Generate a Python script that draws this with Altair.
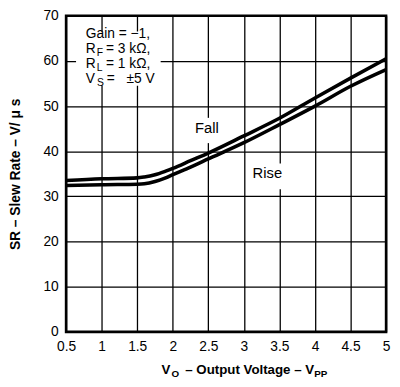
import altair as alt
import pandas as pd

# ---- data ----
vo = [0.5, 1.0, 1.5, 1.6, 1.75, 1.9, 2.0, 2.25, 2.5, 3.0, 3.5, 4.0, 4.5, 5.0]
fall = [33.5, 33.9, 34.1, 34.3, 34.8, 35.6, 36.2, 37.9, 39.6, 43.4, 47.3, 51.8, 56.2, 60.5]
rise = [32.4, 32.6, 32.7, 32.8, 33.3, 34.1, 34.8, 36.5, 38.3, 41.9, 45.9, 50.0, 54.4, 58.1]
x_ticks = [0.5, 1, 1.5, 2, 2.5, 3, 3.5, 4, 4.5, 5]
y_ticks = [0, 10, 20, 30, 40, 50, 60, 70]

# curve labels (data coordinates)
curve_labels = ["Fall", "Rise"]
curve_label_x = [2.48, 3.33]
curve_label_y = [45.2, 35.2]

# white backgrounds behind annotations (data coordinates)
box_x1 = [0.64, 2.30, 3.10]
box_x2 = [1.83, 2.66, 3.56]
box_y1 = [54.5, 41.8, 31.6]
box_y2 = [66.5, 47.4, 37.3]

# conditions box pieces (data coordinates)
cond_main_text = ["Gain = \u22121,", "R", "= 3 k\u03a9,", "R", "= 1 k\u03a9,", "V", "=", "\u00b15 V"]
cond_main_x = [0.777, 0.777, 1.06, 0.777, 1.06, 0.777, 1.07, 1.35]
cond_main_y = [65.1, 61.8, 61.8, 58.4, 58.4, 55.2, 55.2, 55.2]
cond_sub_text = ["F", "L", "S"]
cond_sub_x = [0.93, 0.93, 0.935]
cond_sub_y = [61.8, 58.4, 55.2]

FONT = "Liberation Sans"

lines_df = pd.DataFrame({
    "vo": vo * 2,
    "sr": fall + rise,
    "series": ["Fall"] * len(vo) + ["Rise"] * len(vo),
})
lab_df = pd.DataFrame({"t": curve_labels, "x": curve_label_x, "y": curve_label_y})
box_df = pd.DataFrame({"x": box_x1, "x2": box_x2, "y": box_y1, "y2": box_y2})
main_df = pd.DataFrame({"t": cond_main_text, "x": cond_main_x, "y": cond_main_y})
sub_df = pd.DataFrame({"t": cond_sub_text, "x": cond_sub_x, "y": cond_sub_y})

xscale = alt.Scale(domain=[0.5, 5], nice=False, zero=False)
yscale = alt.Scale(domain=[0, 70], nice=False)

xaxis = alt.Axis(values=x_ticks, format="~g", grid=True, gridColor="black",
                 gridWidth=1.3, gridOpacity=1, ticks=False, domain=False,
                 labelFont=FONT, labelFontSize=14, labelColor="black",
                 labelPadding=8, title=None, labelFlush=False, labelOverlap=False)
yaxis = alt.Axis(values=y_ticks, grid=True, gridColor="black",
                 gridWidth=1.3, gridOpacity=1, ticks=False, domain=False,
                 labelFont=FONT, labelFontSize=14, labelColor="black",
                 labelPadding=8, labelOverlap=False, labelFlush=False,
                 title="SR \u2013 Slew Rate \u2013 V/ \u03bc s",
                 titleFont=FONT, titleFontSize=14, titleFontWeight="bold",
                 titleColor="black", titlePadding=21)


def X(field):
    return alt.X(f"{field}:Q", scale=xscale, axis=xaxis)


def Y(field):
    return alt.Y(f"{field}:Q", scale=yscale, axis=yaxis)


boxes = alt.Chart(box_df).mark_rect(color="white").encode(
    x=X("x"), x2="x2", y=Y("y"), y2="y2")

lines = alt.Chart(lines_df).mark_line(strokeWidth=3.6, interpolate="monotone").encode(
    x=X("vo"), y=Y("sr"),
    color=alt.Color("series:N", scale=alt.Scale(range=["black", "black"]), legend=None),
)

main_txt = alt.Chart(main_df).mark_text(font=FONT, fontSize=14, align="left",
                                        baseline="alphabetic", color="black").encode(
    x=X("x"), y=Y("y"), text="t:N")
sub_txt = alt.Chart(sub_df).mark_text(font=FONT, fontSize=10.5, align="left",
                                      baseline="alphabetic", dy=3, color="black").encode(
    x=X("x"), y=Y("y"), text="t:N")
lab_txt = alt.Chart(lab_df).mark_text(font=FONT, fontSize=15, align="center",
                                      baseline="middle", color="black").encode(
    x=X("x"), y=Y("y"), text="t:N")


# x-axis title with subscripts, drawn as text below the plot
def title_piece(txt, px, py, size):
    return alt.Chart(pd.DataFrame({"t": [txt]})).mark_text(
        font=FONT, fontSize=size, fontWeight="bold", align="left",
        baseline="alphabetic", color="black").encode(
        x=alt.value(px), y=alt.value(py), text="t:N")


xt1 = title_piece("V", 97, 364, 13.5)
xt2 = title_piece("O", 107, 367, 10)
xt3 = title_piece("\u2013 Output Voltage \u2013 V", 121, 364, 13.5)
xt4 = title_piece("PP", 252, 367, 10)

chart = alt.layer(
    boxes, lines, lab_txt, main_txt, sub_txt, xt1, xt2, xt3, xt4
).properties(
    width=325, height=321,
    background="white",
    autosize=alt.AutoSizeParams(type="none"),
    padding={"left": 59, "top": 5, "right": 6, "bottom": 48},
).configure_view(
    stroke="black", strokeWidth=2.6
)

chart.save("out.html", embed_options={"renderer": "svg", "actions": False})
